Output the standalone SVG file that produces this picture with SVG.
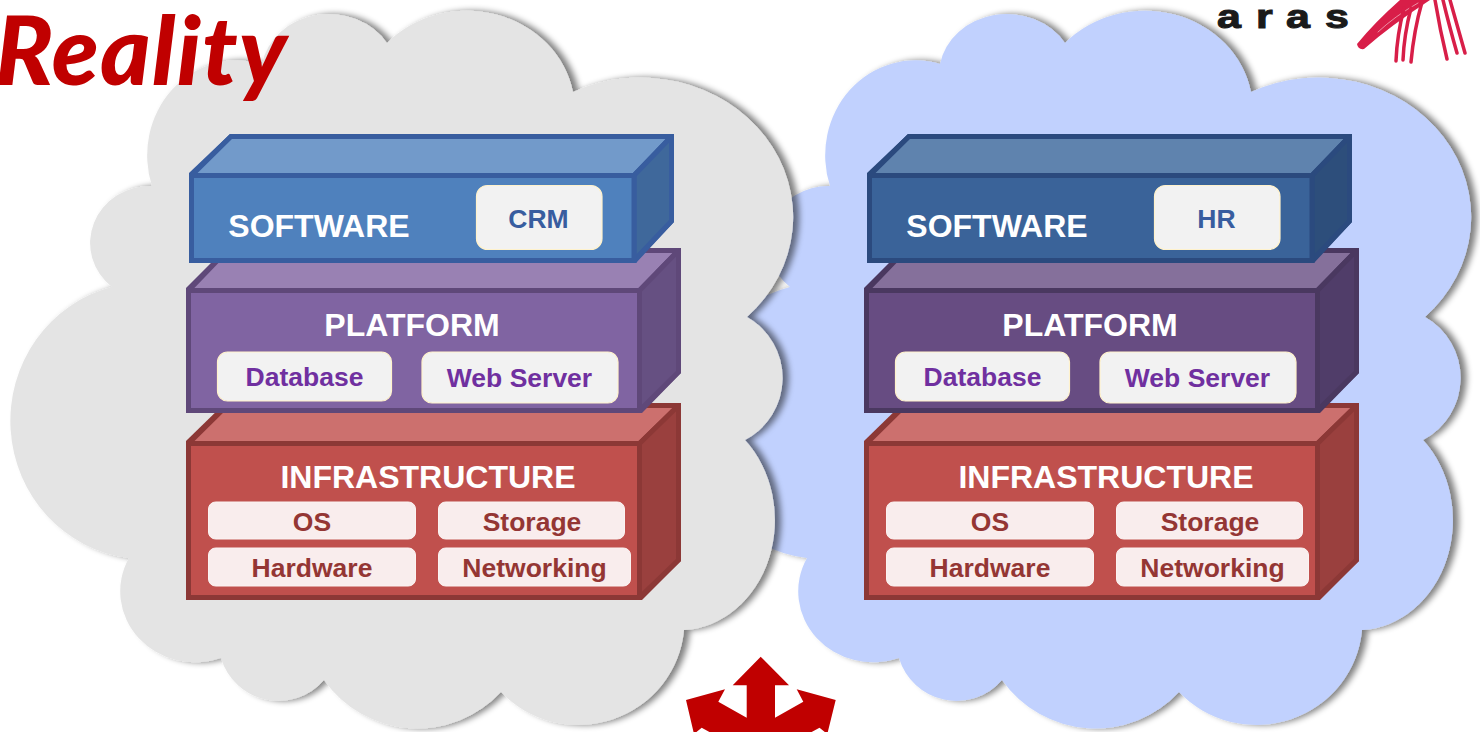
<svg xmlns="http://www.w3.org/2000/svg" xmlns:xlink="http://www.w3.org/1999/xlink" width="1480" height="732" viewBox="0 0 1480 732">
<style>
text{font-family:"Liberation Sans",Arial,sans-serif;font-weight:700}
.t{font-size:32px;fill:#fff;text-anchor:middle}
.l{font-size:26.500px;text-anchor:middle}
.s{stroke-width:5;stroke-linejoin:miter;stroke-miterlimit:1.500;stroke:var(--k)}
.o{fill:var(--k)}.f{fill:var(--f)}.u{fill:var(--u)}.d{fill:var(--d)}
.card{fill:#f2f2f2;stroke:#fff2cc;stroke-width:1.2}
.ic{fill:#f9eded;stroke:#fbf3f2;stroke-width:1}
.bl{fill:#385d9f}.pl{fill:#7030a0}.rl{fill:#943634}
.sw1{--k:#385d9f;--f:#4f81bd;--u:#729aca;--d:#3f689b}
.pf1{--k:#5f4879;--f:#8064a2;--u:#9981b3;--d:#665082}
.sw2{--k:#2b4a7e;--f:#3a6399;--u:#5f83ae;--d:#2d4e7b}
.pf2{--k:#4a3860;--f:#674c82;--u:#85709b;--d:#503d69}
.inf{--k:#8c3836;--f:#c0504d;--u:#cc706e;--d:#9a403e}
.brush{fill:none;stroke:#d81e48;stroke-linecap:round}
</style>
<defs>
<filter id="sh" x="-5%" y="-5%" width="112%" height="110%">
<feGaussianBlur in="SourceAlpha" stdDeviation="3.4" result="b"/>
<feOffset in="b" dx="6" dy="0" result="o"/>
<feComponentTransfer in="o" result="c"><feFuncA type="linear" slope="0.5"/></feComponentTransfer>
<feMerge><feMergeNode in="c"/><feMergeNode in="SourceGraphic"/></feMerge>
</filter>
<path id="cloudShape" d="M152 186A90 95 0 0 1 262 64A68 60.500 0 0 1 387 43A108 99 0 0 1 573 92A152.500 139.500 0 0 1 747 317A70 70 0 0 1 745 440A95 110 0 0 1 684 630A106 104 0 0 1 501 692A114 114 0 0 1 324 680A60 60 0 0 1 221 658A75 71 0 0 1 129 558A134 138 0 0 1 112 287A60 57 0 0 1 152 186Z"/>
<g id="swShape">
<polygon class="o" points="189,173 230,134 674,134 674,222 636,263 189,263"/>
<polygon class="s u" points="191.5,175.5 231,136.5 671.5,136.5 634,175.5"/>
<polygon class="s d" points="634,175.5 671.5,136.5 671.5,221 634,260.5"/>
<rect class="s f" x="191.5" y="175.5" width="442.500" height="85"/>
<text class="t" x="319" y="237">SOFTWARE</text>
</g>
<g id="pfShape">
<polygon class="o" points="186,288 226,248 681,248 681,373 642,413 186,413"/>
<polygon class="s u" points="188.500,290.500 227,250.500 678.500,250.500 639.500,290.500"/>
<polygon class="s d" points="639.500,290.500 678.500,250.500 678.500,372 639.500,410.500"/>
<rect class="s f" x="188.500" y="290.500" width="451" height="120"/>
<text class="t" x="412" y="336">PLATFORM</text>
<rect class="card" x="217.500" y="352" width="174" height="49" rx="10"/>
<text class="l pl" x="304.500" y="386">Database</text>
<rect class="card" x="422" y="352" width="196" height="51" rx="10"/>
<text class="l pl" x="519.500" y="387">Web Server</text>
</g>
<g id="infShape">
<polygon class="o" points="186,441 225,403 681,403 681,561 642,600 186,600"/>
<polygon class="s u" points="188.500,443.500 227,405.500 678.500,405.500 639.500,443.500"/>
<polygon class="s d" points="639.500,443.500 678.500,405.500 678.500,560 639.500,597.500"/>
<rect class="s f" x="188.500" y="443.500" width="451" height="154"/>
<text class="t" x="428" y="488">INFRASTRUCTURE</text>
<rect class="ic" x="208.500" y="502" width="207" height="37" rx="7"/>
<text class="l rl" x="312" y="531">OS</text>
<rect class="ic" x="438.500" y="502" width="186" height="37" rx="7"/>
<text class="l rl" x="532" y="531">Storage</text>
<rect class="ic" x="208.500" y="548" width="207" height="38" rx="7"/>
<text class="l rl" x="312" y="577">Hardware</text>
<rect class="ic" x="438.500" y="548" width="192" height="38" rx="7"/>
<text class="l rl" x="534.500" y="577">Networking</text>
</g>
</defs>
<rect width="1480" height="732" fill="#fff"/>

<g id="cloud-right" filter="url(#sh)"><use xlink:href="#cloudShape" href="#cloudShape" x="678" fill="#c1d1fe"/></g>
<g id="cloud-left" filter="url(#sh)"><use xlink:href="#cloudShape" href="#cloudShape" fill="#e4e4e4"/></g>

<text id="title" x="288" y="85" text-anchor="end" style="font-family:Lato,'Liberation Sans',sans-serif;font-weight:900;font-style:italic;font-size:96px;letter-spacing:1.300px" fill="#c00000">Reality</text>

<g id="logo-aras">
<text transform="translate(1217 28) scale(1.3 1)" style="font-size:33px" fill="#1a1a1a" stroke="#1a1a1a" stroke-width="1" x="0 30 53 83">aras</text>
<path fill="#d81e48" d="M1357 44Q1358 50 1364 49Q1390 26 1430 0L1400 0Q1375 22 1357 44Z"/>
<path class="brush" stroke-width="1" style="stroke:#fff;opacity:.5" d="M1378 32Q1395 16 1418 3"/>
<path class="brush" stroke-width="3.500" d="M1396 61Q1397 35 1404 8M1403 60Q1404 35 1411 8M1411 62Q1414 30 1422 2M1447 59Q1440 30 1435 0M1457 53Q1449 25 1443 0M1465 53Q1457 25 1450 0"/>
</g>

<g id="infrastructure-left" class="inf"><use xlink:href="#infShape" href="#infShape"/></g>
<g id="platform-left" class="pf1"><use xlink:href="#pfShape" href="#pfShape"/></g>
<g id="software-left" class="sw1"><use xlink:href="#swShape" href="#swShape"/>
<rect class="card" x="476.500" y="185.500" width="125.500" height="64" rx="11"/>
<text class="l bl" x="538.500" y="228">CRM</text></g>

<g id="infrastructure-right" class="inf"><use xlink:href="#infShape" href="#infShape" x="678"/></g>
<g id="platform-right" class="pf2"><use xlink:href="#pfShape" href="#pfShape" x="678"/></g>
<g id="software-right" class="sw2"><use xlink:href="#swShape" href="#swShape" x="678"/>
<rect class="card" x="1154.500" y="185.500" width="125.500" height="64" rx="11"/>
<text class="l bl" x="1216.500" y="228">HR</text></g>

<polygon id="arrows" fill="#c00000" points="760.700,656.700 789,685.300 775,685.300 775,717.700 803.300,701.700 796.700,689.300 835.700,700 827.300,734 819.500,727.700 808,734 713,734 701.700,727.700 694,734 686,700 725,689.300 718.300,701.700 746.700,717.700 746.700,685.300 732.700,685.300"/>
</svg>
